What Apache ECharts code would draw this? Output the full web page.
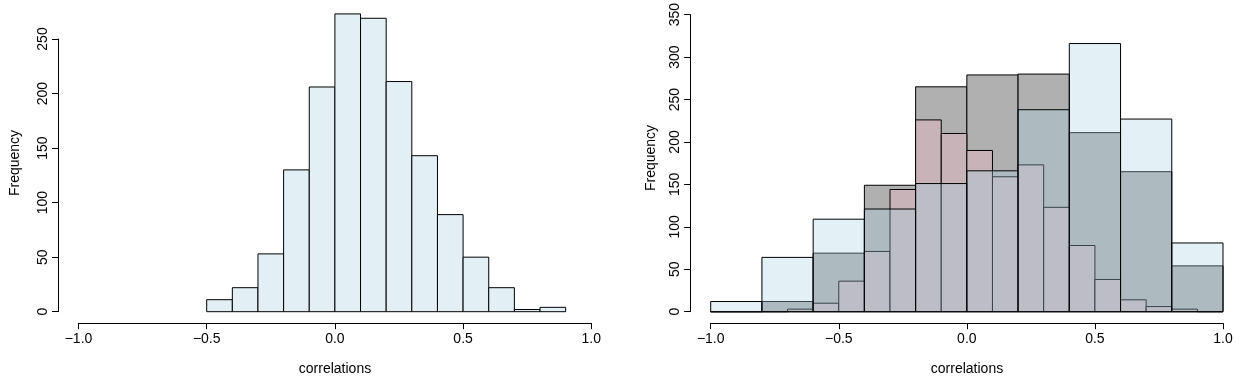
<!DOCTYPE html>
<html>
<head>
<meta charset="utf-8">
<script src="https://cdn.jsdelivr.net/npm/echarts@6/dist/echarts.min.js"></script>
<style>
html,body{margin:0;padding:0;background:#fff;}
#chart{width:1242px;height:378px;}
</style>
</head>
<body>
<div id="chart"></div>
<script>
// ---- data ----
const leftEdges = [-0.5,-0.4,-0.3,-0.2,-0.1,0.0,0.1,0.2,0.3,0.4,0.5,0.6,0.7,0.8,0.9];
const leftCounts = [11,22,53,130,206,273,269,211,143,89,50,22,2,4];

const wideEdges = [-1.0,-0.8,-0.6,-0.4,-0.2,0.0,0.2,0.4,0.6,0.8,1.0];
const blueCounts = [12,64,109,121,151,166,238,316,227,81];
const greyCounts = [0,12,69,149,265,279,280,211,165,54];

const narrowEdges = [-1.0,-0.9,-0.8,-0.7,-0.6,-0.5,-0.4,-0.3,-0.2,-0.1,0.0,0.1,0.2,0.3,0.4,0.5,0.6,0.7,0.8,0.9,1.0];
const pinkCounts = [0,0,0,3,10,36,71,144,226,210,190,159,173,123,78,38,14,6,3,0];

const xTicks = [-1.0,-0.5,0.0,0.5,1.0];
const leftYTicks = [0,50,100,150,200,250];
const rightYTicks = [0,50,100,150,200,250,300,350];

const xTitle = 'correlations';
const yTitle = 'Frequency';

// ---- helpers ----
function binData(edges, counts){
  return counts.map((c,i)=>[edges[i], edges[i+1], c]);
}
function histSeries(gridIdx, edges, counts, fill, z){
  return {
    type:'custom',
    xAxisIndex:gridIdx, yAxisIndex:gridIdx,
    clip:false, z:z, silent:true,
    data: binData(edges, counts),
    renderItem:function(params, api){
      const p0 = api.coord([api.value(0), api.value(2)]);
      const p1 = api.coord([api.value(1), 0]);
      return {
        type:'rect',
        shape:{x:p0[0], y:p0[1], width:p1[0]-p0[0], height:p1[1]-p0[1]},
        style:{fill:fill, stroke:'#000', lineWidth:1}
      };
    }
  };
}
const FONT = 'Liberation Sans, Arial, Helvetica, sans-serif';
const FS = 14;
function fmtX(v){
  const s = Math.abs(v).toFixed(1);
  return v < 0 ? '\u2212' + s : s;
}
function xAxisCfg(gridIdx){
  return {
    type:'value', gridIndex:gridIdx, min:xTicks[0], max:xTicks[xTicks.length-1], interval:0.5,
    position:'bottom', offset:11.5,
    axisLine:{show:true, onZero:false, lineStyle:{color:'#000', width:1}},
    axisTick:{show:true, length:6, lineStyle:{color:'#000', width:1}},
    axisLabel:{color:'#000', fontSize:FS, fontFamily:FONT, margin:9, formatter:fmtX, showMinLabel:true, showMaxLabel:true},
    splitLine:{show:false}
  };
}
function yAxisCfg(gridIdx, ticks){
  return {
    type:'value', gridIndex:gridIdx, min:ticks[0], max:ticks[ticks.length-1], interval:50,
    position:'left', offset:20.5,
    axisLine:{show:true, onZero:false, lineStyle:{color:'#000', width:1}},
    axisTick:{show:true, length:6, lineStyle:{color:'#000', width:1}},
    axisLabel:{color:'#000', fontSize:FS, fontFamily:FONT, rotate:90, margin:8, showMinLabel:true, showMaxLabel:true},
    splitLine:{show:false}
  };
}

const chart = echarts.init(document.getElementById('chart'), null, {renderer:'canvas'});
const option = {
  animation:false,
  backgroundColor:'#fff',
  grid:[
    {left:78.5, top:39, width:512.8, height:272.7},
    {left:710.7, top:14.3, width:512.3, height:297.4}
  ],
  xAxis:[xAxisCfg(0), xAxisCfg(1)],
  yAxis:[yAxisCfg(0, leftYTicks), yAxisCfg(1, rightYTicks)],
  series:[
    histSeries(0, leftEdges, leftCounts, '#e2eff5', 2),
    histSeries(1, wideEdges, greyCounts, '#b0b0b0', 2),
    histSeries(1, narrowEdges, pinkCounts, '#c8b4b8', 3),
    histSeries(1, wideEdges, blueCounts, 'rgba(167,208,227,0.32)', 4)
  ],
  graphic:[
    {type:'text', x:15, y:163, rotation:Math.PI/2, style:{text:yTitle, fill:'#000', font:FS+'px '+FONT, align:'center', verticalAlign:'middle'}},
    {type:'text', x:651, y:158, rotation:Math.PI/2, style:{text:yTitle, fill:'#000', font:FS+'px '+FONT, align:'center', verticalAlign:'middle'}},
    {type:'text', x:335, y:369, style:{text:xTitle, fill:'#000', font:FS+'px '+FONT, align:'center', verticalAlign:'middle'}},
    {type:'text', x:967, y:369, style:{text:xTitle, fill:'#000', font:FS+'px '+FONT, align:'center', verticalAlign:'middle'}}
  ]
};
chart.setOption(option);
</script>
</body>
</html>
